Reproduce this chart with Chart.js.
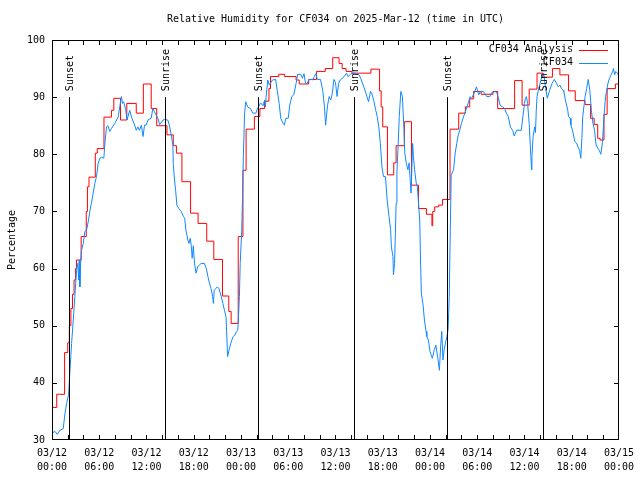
<!DOCTYPE html>
<html>
<head>
<meta charset="utf-8">
<script src="https://cdn.jsdelivr.net/npm/chart.js@4/dist/chart.umd.min.js"></script>
<style>
  body { margin: 0; background: #fff; }
  #wrap { width: 640px; height: 480px; }
</style>
</head>
<body>
<div id="wrap"><canvas id="rh" width="640" height="480"></canvas></div>
<script>
// hours since 2025-03-12 00:00 UTC
const chartTitle = "Relative Humidity for CF034 on 2025-Mar-12 (time in UTC)";
const xTickLabels = [
    ["03/12", "00:00"], ["03/12", "06:00"], ["03/12", "12:00"], ["03/12", "18:00"],
    ["03/13", "00:00"], ["03/13", "06:00"], ["03/13", "12:00"], ["03/13", "18:00"],
    ["03/14", "00:00"], ["03/14", "06:00"], ["03/14", "12:00"], ["03/14", "18:00"],
    ["03/15", "00:00"]
];

// analysis: each value holds from its hour until the next one
const analysisHours = [
    0.0, 0.6, 1.6, 2.0, 2.2, 2.4, 2.6, 2.8, 3.0, 3.1,
    3.7, 4.35, 4.5, 4.7, 5.5, 5.75, 6.6, 7.55, 7.85, 8.7,
    9.5, 10.7, 11.6, 12.6, 13.3, 14.6, 15.4, 15.8, 16.5, 17.6,
    18.55, 19.65, 20.55, 21.65, 22.45, 22.75, 23.65, 24.25, 24.65, 25.7,
    26.4, 27.0, 27.55, 27.75, 28.8, 29.55, 31.0, 31.4, 32.6, 33.6,
    34.7, 35.65, 36.45, 36.85, 37.35, 38.1, 40.5, 41.6, 41.8, 42.0,
    42.6, 43.4, 43.7, 44.75, 45.65, 46.55, 47.55, 48.25, 48.35, 48.6,
    49.1, 49.6, 50.55, 51.65, 52.5, 53.05, 53.55, 54.5, 56.0, 56.6,
    58.75, 59.7, 60.6, 61.6, 62.35, 63.55, 64.5, 65.6, 66.45, 67.7,
    68.4, 68.85, 69.3, 69.6, 70.1, 70.5, 71.55, 72.0
];
const analysisValues = [
    35.7, 38.0, 45.3, 47.0, 50.0, 53.0, 55.5, 58.0, 60.0, 61.5,
    65.6, 70.0, 74.3, 76.0, 80.2, 81.0, 86.5, 87.7, 89.8, 86.0,
    88.9, 87.2, 92.3, 88.0, 85.0, 83.4, 81.5, 80.2, 75.2, 69.7,
    67.9, 64.8, 61.6, 55.2, 52.5, 50.4, 65.6, 77.2, 84.4, 86.6,
    88.0, 89.3, 91.5, 93.6, 94.0, 93.6, 93.0, 92.3, 93.1, 94.5,
    95.0, 96.9, 95.9, 95.0, 94.5, 94.2, 94.9, 91.1, 88.3, 84.8,
    76.4, 78.5, 81.5, 85.7, 74.6, 70.5, 69.5, 67.5, 70.0, 70.8,
    71.1, 72.1, 84.4, 87.2, 88.3, 89.7, 91.0, 90.5, 91.0, 88.0,
    92.9, 88.6, 91.4, 94.2, 93.5, 95.0, 93.9, 91.1, 89.4, 88.7,
    86.3, 85.2, 82.8, 82.5, 87.0, 91.5, 92.3, 92.3
];

// station observations
const obsHours = [
    0.0, 0.38, 0.67, 1.01, 1.43, 1.65, 1.86, 2.1, 2.28, 2.49,
    2.7, 2.9, 3.12, 3.27, 3.4, 3.46, 3.54, 3.63, 3.75, 3.97,
    4.18, 4.4, 4.6, 4.8, 5.0, 5.23, 5.44, 5.65, 5.86, 6.07,
    6.3, 6.58, 6.7, 6.92, 7.1, 7.34, 7.55, 7.97, 8.4, 8.6,
    8.82, 8.95, 9.1, 9.36, 9.53, 9.87, 10.1, 10.5, 10.7, 10.9,
    11.1, 11.35, 11.56, 11.75, 11.95, 12.2, 12.6, 12.8, 13.0, 13.2,
    13.45, 13.67, 14.1, 14.3, 14.7, 14.9, 15.1, 15.35, 15.4, 15.56,
    15.7, 15.86, 16.1, 16.4, 16.7, 16.85, 17.0, 17.25, 17.4, 17.55,
    17.7, 17.8, 17.95, 18.1, 18.3, 18.5, 18.7, 18.94, 19.36, 19.6,
    19.8, 20.0, 20.2, 20.4, 20.5, 20.6, 21.0, 21.2, 21.5, 21.7,
    21.9, 22.1, 22.3, 22.5, 22.7, 23.0, 23.25, 23.45, 23.6, 23.8,
    23.9, 24.1, 24.2, 24.3, 24.46, 24.6, 24.85, 25.2, 25.5, 25.9,
    26.1, 26.5, 26.8, 27.0, 27.1, 27.2, 27.4, 27.6, 28.0, 28.4,
    28.6, 28.85, 29.05, 29.35, 29.5, 29.7, 30.0, 30.2, 30.45, 30.7,
    31.0, 31.2, 31.6, 31.8, 32.0, 32.2, 32.4, 32.6, 32.9, 33.1,
    33.3, 33.5, 33.7, 34.1, 34.4, 34.6, 34.75, 34.85, 35.0, 35.2,
    35.4, 35.6, 35.8, 36.0, 36.2, 36.4, 36.6, 37.1, 37.4, 37.6,
    37.9, 38.2, 38.5, 39.0, 39.2, 39.6, 40.0, 40.2, 40.45, 40.6,
    40.9, 41.1, 41.3, 41.5, 41.7, 41.9, 42.1, 42.35, 42.56, 42.8,
    43.0, 43.1, 43.3, 43.36, 43.5, 43.6, 43.7, 43.8, 43.95, 44.1,
    44.3, 44.5, 44.7, 44.8, 45.0, 45.2, 45.35, 45.5, 45.6, 45.8,
    45.9, 46.05, 46.25, 46.4, 46.6, 46.7, 46.8, 46.9, 47.1, 47.3,
    47.5, 47.6, 47.8, 48.0, 48.3, 48.55, 48.75, 49.0, 49.2, 49.35,
    49.5, 49.65, 49.8, 50.0, 50.15, 50.3, 50.45, 50.6, 50.7, 51.0,
    51.2, 51.4, 51.6, 51.8, 52.0, 52.2, 52.5, 52.7, 52.9, 53.1,
    53.3, 53.5, 53.7, 53.9, 54.2, 54.4, 54.8, 55.2, 55.6, 55.8,
    56.3, 56.5, 56.7, 56.9, 57.2, 57.5, 57.7, 57.95, 58.2, 58.5,
    58.7, 59.0, 59.6, 59.75, 60.0, 60.1, 60.25, 60.4, 60.6, 60.75,
    60.9, 60.95, 61.1, 61.3, 61.4, 61.5, 61.6, 61.8, 62.1, 62.3,
    62.45, 62.7, 62.9, 63.2, 63.5, 63.8, 64.1, 64.3, 64.5, 64.7,
    64.9, 65.0, 65.2, 65.5, 65.6, 65.8, 65.9, 66.1, 66.4, 66.6,
    66.8, 67.0, 67.15, 67.3, 67.4, 67.7, 67.9, 68.1, 68.3, 68.5,
    68.7, 68.9, 69.1, 69.3, 69.5, 69.7, 69.9, 70.1, 70.3, 70.6,
    70.8, 71.0, 71.2, 71.3, 71.45, 71.6, 71.8, 72.0
];
const obsValues = [
    31.2, 31.5, 31.0, 31.7, 32.0, 34.7, 36.4, 37.9, 42.2, 46.9,
    51.0, 55.1, 59.7, 60.9, 58.0, 61.5, 56.8, 60.9, 63.2, 64.4,
    66.5, 66.8, 68.2, 70.0, 71.4, 73.2, 74.9, 76.1, 78.4, 79.3,
    79.5, 79.3, 81.6, 84.8, 85.0, 84.0, 84.5, 85.4, 86.5, 88.3,
    90.1, 88.9, 89.2, 87.8, 86.0, 87.7, 86.5, 85.1, 84.2, 84.8,
    84.2, 85.1, 83.1, 85.1, 85.1, 86.0, 86.3, 88.0, 87.5, 86.9,
    86.3, 85.2, 86.0, 86.1, 86.0, 85.1, 83.7, 81.6, 78.4, 75.5,
    73.7, 71.1, 70.5, 70.0, 69.1, 68.8, 66.8, 65.0, 64.4, 65.3,
    63.9, 61.8, 64.0, 60.9, 59.2, 60.3, 60.6, 60.9, 60.9, 60.0,
    58.6, 57.4, 56.5, 55.1, 53.9, 56.2, 56.8, 56.5, 55.1, 53.9,
    52.7, 51.6, 44.6, 45.8, 46.9, 48.1, 48.4, 49.0, 49.3, 55.1,
    60.9, 66.8, 72.6, 79.6, 87.2, 89.2, 88.3, 88.0, 87.2, 87.2,
    88.0, 89.0, 88.5, 89.5, 88.3, 90.1, 93.0, 92.1, 93.0, 93.1,
    91.2, 88.9, 86.3, 85.4, 85.1, 86.3, 86.3, 88.6, 90.1, 90.4,
    92.4, 94.0, 94.0, 93.3, 94.1, 92.4, 92.4, 93.0, 93.1, 93.0,
    93.6, 94.1, 93.1, 93.1, 91.0, 88.3, 85.1, 86.6, 88.6, 90.1,
    89.5, 90.7, 93.1, 92.6, 90.1, 92.4, 93.0, 93.6, 94.2, 93.6,
    94.0, 94.2, 94.2, 93.9, 93.3, 91.8, 90.1, 89.2, 91.0, 90.7,
    89.2, 87.8, 86.6, 84.8, 81.9, 77.8, 76.1, 76.1, 72.0, 69.1,
    66.8, 63.8, 62.1, 58.9, 60.9, 65.6, 71.4, 76.7, 81.3, 86.6,
    91.0, 90.1, 84.3, 80.2, 78.4, 77.3, 78.5, 75.2, 73.2, 81.9,
    79.6, 77.3, 75.0, 74.3, 70.3, 68.5, 61.5, 55.7, 53.9, 51.0,
    49.0, 48.1, 47.5, 45.5, 44.3, 45.8, 46.6, 44.3, 42.2, 46.3,
    49.0, 44.0, 45.8, 47.2, 48.1, 49.3, 55.1, 68.5, 76.4, 77.3,
    80.2, 81.9, 83.4, 84.3, 85.4, 86.3, 87.5, 88.3, 89.2, 90.1,
    89.8, 90.4, 91.0, 91.8, 90.4, 91.0, 91.0, 90.1, 90.1, 90.7,
    91.0, 90.7, 89.8, 88.6, 88.3, 88.0, 87.2, 86.6, 84.8, 84.2,
    83.2, 84.2, 84.2, 86.0, 88.9, 89.7, 90.1, 88.9, 85.4, 81.3,
    77.3, 79.6, 83.1, 84.8, 83.8, 87.7, 90.1, 91.5, 93.0, 93.9,
    94.1, 91.5, 89.8, 91.2, 92.4, 93.1, 92.3, 91.8, 92.1, 91.5,
    91.2, 91.0, 89.5, 87.7, 86.6, 86.3, 85.1, 84.2, 82.2, 82.0,
    81.3, 80.7, 79.3, 83.0, 86.6, 90.1, 91.5, 93.1, 91.2, 87.7,
    85.4, 84.2, 81.6, 81.1, 80.7, 80.0, 82.0, 86.6, 90.1, 92.4,
    93.3, 93.9, 94.5, 95.0, 93.9, 94.5, 94.2, 93.8
];

const sunHours = [2.1, 14.38, 26.13, 38.35, 50.17, 62.32];
const sunLabels = ["Sunset", "Sunrise", "Sunset", "Sunrise", "Sunset", "Sunrise"];
const sunLineTop = 90;

const FONT = "'DejaVu Sans Mono', 'Liberation Mono', monospace";

// title centred over the plot area, like gnuplot does
const titlePlugin = {
    id: "plotTitle",
    afterDraw(chart){
        const ctx = chart.ctx;
        const a = chart.chartArea;
        ctx.save();
        ctx.font = "10px " + FONT;
        ctx.fillStyle = "#000";
        ctx.textAlign = "center";
        ctx.textBaseline = "middle";
        ctx.fillText(chartTitle, (a.left + a.right) / 2, 19);
        ctx.restore();
    }
};

// gnuplot-like frame with inward ticks on all four sides
const framePlugin = {
    id: "frame",
    afterDraw(chart){
        const ctx = chart.ctx;
        const a = chart.chartArea;
        const xs = chart.scales.x, ys = chart.scales.y;
        ctx.save();
        ctx.strokeStyle = "#000";
        ctx.lineWidth = 1;
        ctx.beginPath();
        for(const t of xs.ticks){
            if(t.value <= xs.min || t.value >= xs.max) continue;
            const px = Math.round(xs.getPixelForValue(t.value)) + 0.5;
            ctx.moveTo(px, a.bottom); ctx.lineTo(px, a.bottom - 5);
            ctx.moveTo(px, a.top); ctx.lineTo(px, a.top + 5);
        }
        for(const t of ys.ticks){
            if(t.value <= ys.min || t.value >= ys.max) continue;
            const py = Math.round(ys.getPixelForValue(t.value)) + 0.5;
            ctx.moveTo(a.left, py); ctx.lineTo(a.left + 5, py);
            ctx.moveTo(a.right, py); ctx.lineTo(a.right - 5, py);
        }
        ctx.stroke();
        ctx.strokeRect(Math.round(a.left) + 0.5, Math.round(a.top) + 0.5,
            Math.round(a.right - a.left) - 1, Math.round(a.bottom - a.top) - 1);
        ctx.restore();
    }
};

const sunPlugin = {
    id: "sun",
    afterDatasetsDraw(chart){
        const ctx = chart.ctx;
        const xs = chart.scales.x, ys = chart.scales.y;
        const yTop = ys.getPixelForValue(sunLineTop);
        ctx.save();
        ctx.strokeStyle = "#000";
        ctx.lineWidth = 1;
        ctx.fillStyle = "#000";
        ctx.font = "10px " + FONT;
        sunHours.forEach(function(h, i){
            const px = Math.round(xs.getPixelForValue(h)) + 0.5;
            ctx.beginPath();
            ctx.moveTo(px, chart.chartArea.bottom);
            ctx.lineTo(px, yTop);
            ctx.stroke();
            ctx.save();
            ctx.translate(px + 1, yTop - 6);
            ctx.rotate(-Math.PI / 2);
            ctx.textAlign = "left";
            ctx.textBaseline = "middle";
            ctx.fillText(sunLabels[i], 0, 0);
            ctx.restore();
        });
        ctx.restore();
    }
};

// key in the top right corner: text first, then the line sample
const keyPlugin = {
    id: "key",
    afterDraw(chart){
        const ctx = chart.ctx;
        const a = chart.chartArea;
        ctx.save();
        ctx.font = "10px " + FONT;
        ctx.textAlign = "right";
        ctx.textBaseline = "middle";
        chart.data.datasets.forEach(function(ds, i){
            const y = a.top + 9.5 + i * 13;
            ctx.fillStyle = "#000";
            ctx.fillText(ds.label, a.right - 46, y);
            ctx.strokeStyle = ds.borderColor;
            ctx.lineWidth = 1;
            ctx.beginPath();
            ctx.moveTo(a.right - 40, Math.round(y) + 0.5);
            ctx.lineTo(a.right - 11, Math.round(y) + 0.5);
            ctx.stroke();
        });
        ctx.restore();
    }
};

const chart = new Chart(document.getElementById("rh"), {
    type: "line",
    data: {
        datasets: [
            {
                label: "CF034 Analysis",
                data: analysisHours.map((h, i) => ({ x: h, y: analysisValues[i] })),
                borderColor: "#ff0000",
                borderWidth: 1,
                pointRadius: 0,
                stepped: true,
                order: 1
            },
            {
                label: "CF034",
                data: obsHours.map((h, i) => ({ x: h, y: obsValues[i] })),
                borderColor: "#1088ff",
                borderWidth: 1,
                pointRadius: 0,
                tension: 0,
                order: 0
            }
        ]
    },
    options: {
        responsive: false,
        animation: false,
        devicePixelRatio: 1,
        layout: { padding: { left: 0, right: 19, top: 40, bottom: 0 } },
        plugins: {
            legend: { display: false },
            tooltip: { enabled: false },
            title: { display: false }
        },
        scales: {
            x: {
                type: "linear",
                min: 0,
                max: 72,
                grid: { display: false, drawTicks: false },
                border: { display: false },
                ticks: {
                    stepSize: 2,
                    autoSkip: false,
                    maxRotation: 0,
                    padding: 6,
                    color: "#000",
                    font: { family: FONT, size: 10, lineHeight: "14px" },
                    callback: (v) => (v % 6 === 0 ? xTickLabels[v / 6] : "")
                },
                afterFit(scale){ scale.height = 40; }
            },
            y: {
                min: 30,
                max: 100,
                grid: { display: false, drawTicks: false },
                border: { display: false },
                ticks: {
                    stepSize: 10,
                    padding: 7,
                    color: "#000",
                    font: { family: FONT, size: 10 }
                },
                title: {
                    display: true,
                    text: "Percentage",
                    color: "#000",
                    font: { family: FONT, size: 10 },
                    padding: { top: 6, bottom: 0 }
                },
                afterFit(scale){ scale.width = 52; }
            }
        }
    },
    plugins: [sunPlugin, framePlugin, keyPlugin, titlePlugin]
});
</script>
</body>
</html>
